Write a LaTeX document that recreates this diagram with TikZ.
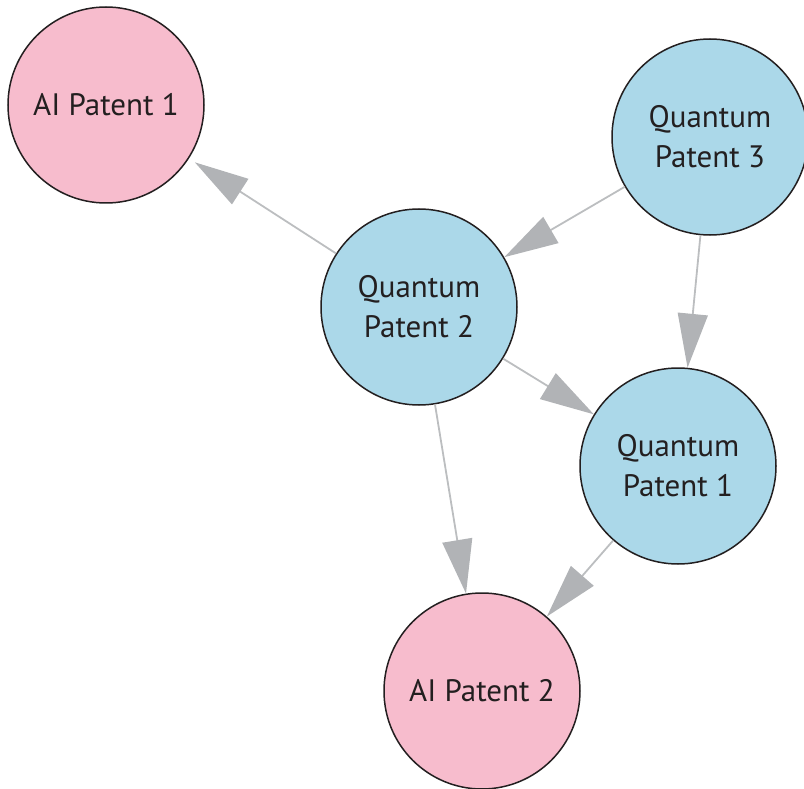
\documentclass[tikz,border=0pt]{standalone}
\usepackage{fontspec}
\setmainfont{PT Sans}
\usetikzlibrary{arrows.meta}
\definecolor{pinkfill}{HTML}{F7BCCD}
\definecolor{bluefill}{HTML}{ABD8E9}
\definecolor{edgegray}{HTML}{BCBEC0}
\definecolor{headgray}{HTML}{B1B3B6}
\definecolor{textdark}{HTML}{231F20}
\tikzset{
  patent/.style={circle, draw=textdark, line width=1.5pt, minimum size=196pt, inner sep=0pt,
    text=textdark, align=center, font=\fontsize{31}{40}\selectfont},
  aipat/.style={patent, fill=pinkfill},
  qpat/.style={patent, fill=bluefill},
  link/.style={draw=edgegray, line width=1.8pt,
    -{Triangle[length=54pt,width=30pt,color=headgray]}}
}
\begin{document}
\begin{tikzpicture}[x=1pt,y=-1pt]
\useasboundingbox (0,0) rectangle (804,789);
\node[aipat] (ai1) at (106,105) {AI Patent 1};
\node[qpat] (qp3) at (710,137) {Quantum\\Patent 3};
\node[qpat] (qp2) at (419,307) {Quantum\\Patent 2};
\node[qpat] (qp1) at (678,466) {Quantum\\Patent 1};
\node[aipat] (ai2) at (482,691) {AI Patent 2};
\draw[link, shorten >=7pt] (qp2) -- (ai1);
\draw[link] (qp3) -- (qp2);
\draw[link] (qp3) -- (qp1);
\draw[link] (qp2) -- (qp1);
\draw[link] (qp2) -- (ai2);
\draw[link] (qp1) -- (ai2);
\end{tikzpicture}
\end{document}
